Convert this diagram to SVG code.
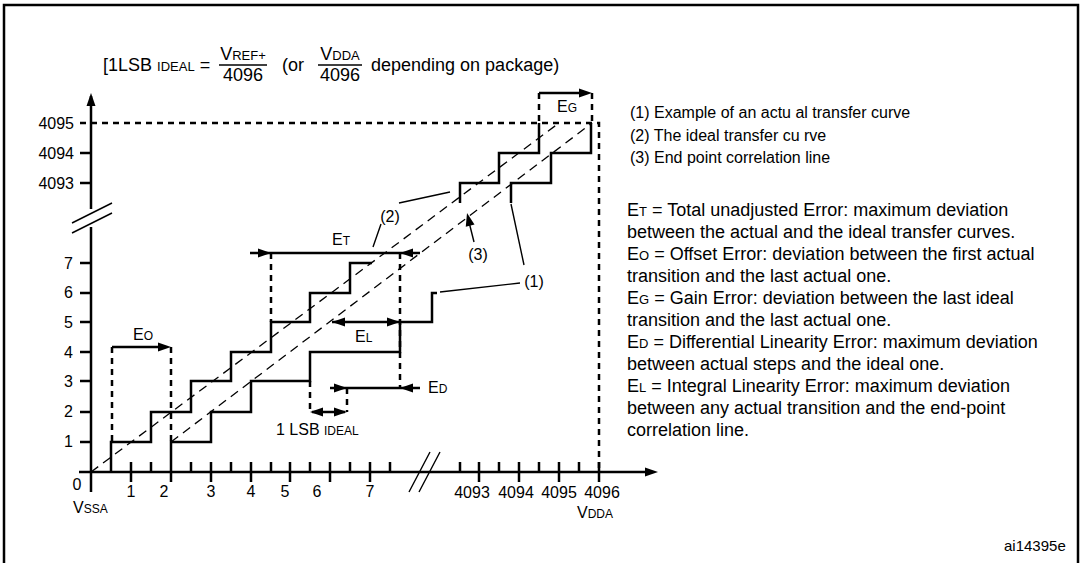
<svg xmlns="http://www.w3.org/2000/svg" xmlns:xlink="http://www.w3.org/1999/xlink" width="1082" height="563" viewBox="0 0 1082 563">
<style>
text{font-family:"Liberation Sans",Arial,sans-serif;fill:#000}
.f18{font-size:18px}.f16{font-size:16px}.f15{font-size:15px}
.sc{font-size:13px}.sc12{font-size:12px}
.s{fill:none;stroke:#000;stroke-width:2.5}
.d{fill:none;stroke:#000;stroke-width:2.5;stroke-dasharray:6 5}
.td{fill:none;stroke:#000;stroke-width:1.3;stroke-dasharray:9 6}
.l{fill:none;stroke:#000;stroke-width:1.4}
</style>
<defs>
<path id="ah" d="M0,0 L-13,-4.5 L-13,4.5 Z" fill="#000"/>
</defs>
<rect width="1082" height="563" fill="#fff"/>
<g id="frame"><path class="s" d="M4,563 V5 H1078 V563"/></g>

<g id="formula">
<text class="f18" x="103" y="71">[1LSB <tspan class="sc">IDEAL</tspan> =</text>
<text class="f18" x="243" y="60" text-anchor="middle">V<tspan class="sc">REF+</tspan></text>
<line x1="219" y1="65" x2="267" y2="65" stroke="#000" stroke-width="1.3"/>
<text class="f18" x="243" y="81" text-anchor="middle">4096</text>
<text class="f18" x="282" y="71">(or</text>
<text class="f18" x="340" y="60" text-anchor="middle">V<tspan class="sc">DDA</tspan></text>
<line x1="318" y1="65" x2="362" y2="65" stroke="#000" stroke-width="1.3"/>
<text class="f18" x="340" y="81" text-anchor="middle">4096</text>
<text class="f18" x="371" y="71">depending on package)</text>
</g>

<g id="axes">
<path class="s" d="M91,96 V209 M91,227 V492"/>
<use xlink:href="#ah" transform="translate(91,93) rotate(-90)"/>
<path class="s" d="M79,472 H648"/>
<use xlink:href="#ah" transform="translate(658,472)"/>
<path class="l" d="M72,223 L112,203 M72,233 L112,213" stroke-width="1.8"/>
<path class="l" d="M409,492 L430,452 M419,492 L440,452" stroke-width="1.8"/>
<path class="s" d="M80,442 H91 M80,412 H91 M80,381 H91 M80,352 H91 M80,322 H91 M80,293 H91 M80,263 H91 M80,183 H91 M80,153 H91"/>
<path class="s" d="M151,462 V472 M191,462 V472 M231,462 V472 M271,462 V472 M310,462 V472 M350,462 V472 M390,462 V472 M460,462 V472 M499,462 V472 M539,462 V472 M579,462 V472"/>
<path class="s" d="M131,462 V482 M211,462 V482 M251,462 V482 M290,462 V482 M330,462 V482 M370,462 V482 M479,462 V482 M519,462 V482 M559,462 V482 M599,462 V482"/>
</g>

<g id="axis-labels">
<text class="f16" x="74" y="129" text-anchor="end">4095</text>
<text class="f16" x="74" y="159" text-anchor="end">4094</text>
<text class="f16" x="74" y="189" text-anchor="end">4093</text>
<text class="f16" x="73" y="269" text-anchor="end">7</text>
<text class="f16" x="73" y="298" text-anchor="end">6</text>
<text class="f16" x="73" y="328" text-anchor="end">5</text>
<text class="f16" x="73" y="358" text-anchor="end">4</text>
<text class="f16" x="73" y="387" text-anchor="end">3</text>
<text class="f16" x="73" y="417" text-anchor="end">2</text>
<text class="f16" x="73" y="447" text-anchor="end">1</text>
<text class="f16" x="77" y="490" text-anchor="middle">0</text>
<text class="f16" x="131" y="497" text-anchor="middle">1</text>
<text class="f16" x="164" y="497" text-anchor="middle">2</text>
<text class="f16" x="211" y="497" text-anchor="middle">3</text>
<text class="f16" x="251" y="497" text-anchor="middle">4</text>
<text class="f16" x="285" y="497" text-anchor="middle">5</text>
<text class="f16" x="317" y="497" text-anchor="middle">6</text>
<text class="f16" x="370" y="497" text-anchor="middle">7</text>
<text class="f16" x="472" y="498" text-anchor="middle">4093</text>
<text class="f16" x="516" y="498" text-anchor="middle">4094</text>
<text class="f16" x="559" y="498" text-anchor="middle">4095</text>
<text class="f16" x="602" y="498" text-anchor="middle">4096</text>
<text class="f16" x="73" y="513">V<tspan class="sc12">SSA</tspan></text>
<text class="f16" x="577" y="518">V<tspan class="sc12">DDA</tspan></text>
</g>

<g id="guides">
<path class="d" d="M80,123 H599 V472"/>
<path class="d" d="M539,93 V123 M592,93 V123"/>
<path class="d" d="M271,253 V322 M400,253 V388"/>
<path class="d" d="M112,347 V442 M171,347 V442"/>
<path class="d" d="M310,381 V412 M347,388 V412"/>
</g>

<g id="ideal-lines">
<path class="td" d="M91,472 L559,123"/>
<path class="td" d="M171,442 L592,123"/>
</g>

<g id="staircases">
<path class="s" d="M111,472 V442 H151 V412 H191 V381 H231 V352 H271 V322 H310 V293 H350 V263 H372"/>
<path class="s" d="M460,203 V183 H499 V153 H539 V123"/>
<path class="s" d="M171,482 V442 H211 V412 H251 V381 H310 V352 H400 V322 H432 V293 H437"/>
<path class="s" d="M511,203 V183 H551 V153 H591 V123"/>
</g>

<g id="connectors">
<path class="s" d="M250,253 H420"/>
<use xlink:href="#ah" transform="translate(271,253)"/>
<use xlink:href="#ah" transform="translate(400,253) rotate(180)"/>
<path class="s" d="M112,347 H165"/>
<use xlink:href="#ah" transform="translate(171,347)"/>
<path class="s" d="M539,93 H586"/>
<use xlink:href="#ah" transform="translate(592,93)"/>
<path class="s" d="M332,322 H400"/>
<use xlink:href="#ah" transform="translate(332,322) rotate(180)"/>
<use xlink:href="#ah" transform="translate(400,322)"/>
<path class="s" d="M330,388 H420"/>
<use xlink:href="#ah" transform="translate(347,388)"/>
<use xlink:href="#ah" transform="translate(400,388) rotate(180)"/>
<path class="s" d="M312,412 H345"/>
<use xlink:href="#ah" transform="translate(310,412) rotate(180)"/>
<use xlink:href="#ah" transform="translate(347,412)"/>
<path class="l" d="M399,203 L450,192 M381,224 L373,247"/>
<path class="l" d="M474,242 L469,222"/>
<use xlink:href="#ah" transform="translate(467,213) rotate(-104)"/>
<path class="l" d="M524,265 L511,204 M520,283 L440,292"/>
</g>

<g id="chart-labels">
<text class="f16" x="332" y="245">E<tspan class="sc12">T</tspan></text>
<text class="f16" x="133" y="340">E<tspan class="sc12">O</tspan></text>
<text class="f16" x="355" y="342">E<tspan class="sc12">L</tspan></text>
<text class="f16" x="428" y="393">E<tspan class="sc12">D</tspan></text>
<text class="f16" x="557" y="112">E<tspan class="sc12">G</tspan></text>
<text class="f16" x="276" y="435">1 LSB <tspan class="sc12">IDEAL</tspan></text>
<text class="f16" x="390" y="222" text-anchor="middle">(2)</text>
<text class="f16" x="478" y="260" text-anchor="middle">(3)</text>
<text class="f16" x="534" y="287" text-anchor="middle">(1)</text>
</g>

<g id="legend">
<text class="f16" x="630" y="118">(1) Example of an actu al transfer curve</text>
<text class="f16" x="630" y="141">(2) The ideal transfer cu rve</text>
<text class="f16" x="630" y="163">(3) End point correlation line</text>
<text class="f18" x="627" y="216">E<tspan class="sc">T</tspan> = Total unadjusted Error: maximum deviation</text>
<text class="f18" x="627" y="238">between the actual and the ideal transfer curves.</text>
<text class="f18" x="627" y="260">E<tspan class="sc">O</tspan> = Offset Error: deviation between the first actual</text>
<text class="f18" x="627" y="282">transition and the last actual one.</text>
<text class="f18" x="627" y="304">E<tspan class="sc">G</tspan> = Gain Error: deviation between the last ideal</text>
<text class="f18" x="627" y="326">transition and the last actual one.</text>
<text class="f18" x="627" y="348">E<tspan class="sc">D</tspan> = Differential Linearity Error: maximum deviation</text>
<text class="f18" x="627" y="370">between actual steps and the ideal one.</text>
<text class="f18" x="627" y="392">E<tspan class="sc">L</tspan> = Integral Linearity Error: maximum deviation</text>
<text class="f18" x="627" y="414">between any actual transition and the end-point</text>
<text class="f18" x="627" y="436">correlation line.</text>
<text class="f15" x="1004" y="551">ai14395e</text>
</g>
</svg>
